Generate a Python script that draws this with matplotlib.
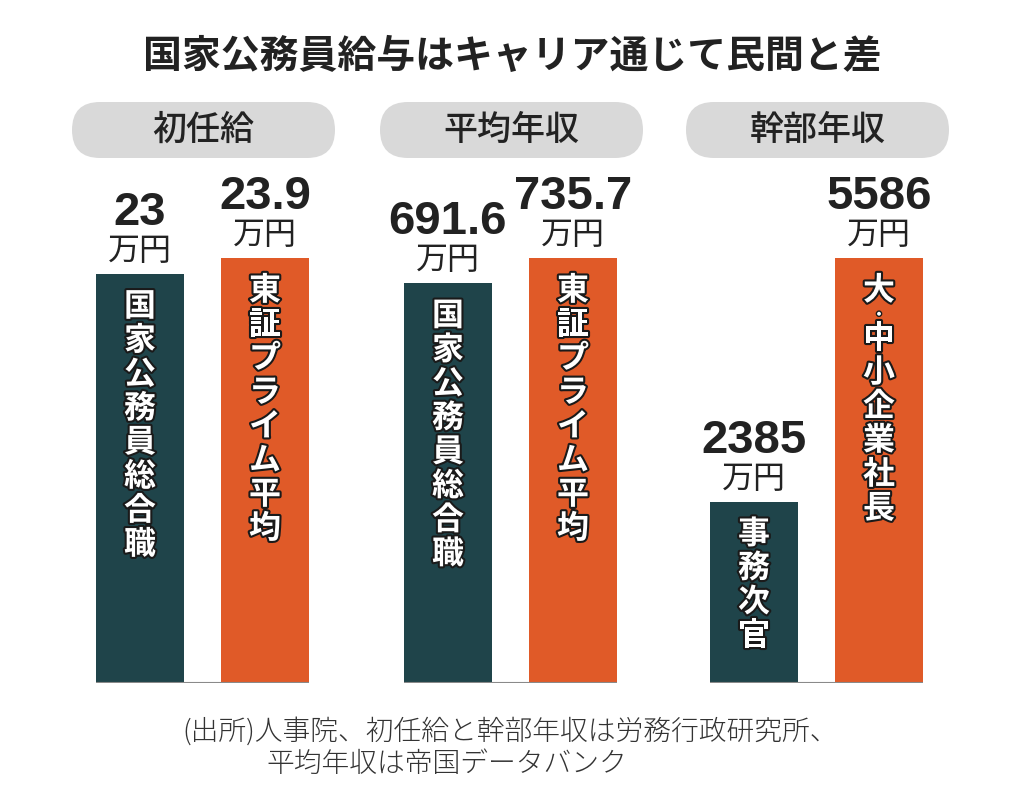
import matplotlib
matplotlib.use("Agg")
import matplotlib.pyplot as plt
import matplotlib.patheffects as pe
from matplotlib.patches import FancyBboxPatch

plt.rcParams['font.family'] = ['Noto Sans CJK JP', 'DejaVu Sans']

# data
title = '国家公務員給与はキャリア通じて民間と差'
panels = ['初任給', '平均年収', '幹部年収']
gov_values = [23, 691.6, 2385]
private_values = [23.9, 735.7, 5586]
gov_labels = ['国家公務員総合職', '国家公務員総合職', '事務次官']
private_labels = ['東証プライム平均', '東証プライム平均', '大・中小企業社長']
unit = '万円'
source_lines = ['(出所)人事院、初任給と幹部年収は労務行政研究所、',
                '平均年収は帝国データバンク']

GOV_COLOR = '#1f444a'
PRIV_COLOR = '#e05a28'
PILL_COLOR = '#d9d9d9'
TEXT_COLOR = '#222222'

W, H = 1024, 800
fig = plt.figure(figsize=(W / 100, H / 100), dpi=100)
fig.patch.set_facecolor('white')

# overlay axes in pixel units for title, pills and source note
bg = fig.add_axes([0, 0, 1, 1])
bg.set_xlim(0, W)
bg.set_ylim(H, 0)
bg.axis('off')

bg.text(512, 56, title, ha='center', va='center', fontsize=28,
        fontweight='bold', color=TEXT_COLOR)


def vertical_label(ax, x, v, s):
    # stack characters downwards from the bar top, the middle dot gets less room
    y_off = -33
    prev = None
    for ch in s:
        if prev is not None:
            y_off -= 24 if '・' in (ch, prev) else 34
        small = ch == '・'
        t = ax.annotate(ch, (x, v), xytext=(0, y_off), textcoords='offset pixels',
                        ha='center', va='center', fontsize=10 if small else 23,
                        fontweight='heavy' if small else 'bold', color='white')
        t.set_path_effects([pe.withStroke(linewidth=2 if small else 3,
                                          foreground='#1a1a1a')])
        prev = ch


panel_left = [72, 380, 686]
panel_w = 263
base_y = 683
top_y = 100
max_bar_px = 425

for i, name in enumerate(panels):
    x0 = panel_left[i]
    pill = FancyBboxPatch((x0, 102), panel_w, 56,
                          boxstyle='round,pad=0,rounding_size=28',
                          fc=PILL_COLOR, ec='none')
    bg.add_patch(pill)
    bg.text(x0 + panel_w / 2, 130, name, ha='center', va='center',
            fontsize=24.5, fontweight='medium', color=TEXT_COLOR)

    ax = fig.add_axes([x0 / W, (H - base_y) / H, panel_w / W, (base_y - top_y) / H])
    ax.axis('off')
    vals = [gov_values[i], private_values[i]]
    labels = [gov_labels[i], private_labels[i]]
    colors = [GOV_COLOR, PRIV_COLOR]
    ax.set_xlim(-0.544, 1.56)
    ax.set_ylim(0, max(vals) * (base_y - top_y) / max_bar_px)
    ax.bar([0, 1], vals, width=0.704, color=colors, zorder=2)
    ax.plot([-0.352, 1.352], [0, 0], color='#8a8a8a', lw=1.5, zorder=3,
            solid_capstyle='butt')

    for x, v, lab in zip([0, 1], vals, labels):
        ax.annotate(unit, (x, v), xytext=(0, 7), textcoords='offset pixels',
                    ha='center', va='bottom', fontsize=23, color=TEXT_COLOR)
        ax.annotate(f'{v:g}', (x, v), xytext=(0, 39), textcoords='offset pixels',
                    ha='center', va='bottom', fontsize=34, fontweight='bold',
                    family=['Liberation Sans', 'Noto Sans CJK JP'],
                    color=TEXT_COLOR)
        vertical_label(ax, x, v, lab)

bg.text(182, 731, source_lines[0], ha='left', va='center', fontsize=20,
        color='#333333', fontweight='light')
bg.text(266, 764, source_lines[1], ha='left', va='center', fontsize=20,
        color='#333333', fontweight='light')

fig.savefig('out.png', dpi=100, facecolor='white')
